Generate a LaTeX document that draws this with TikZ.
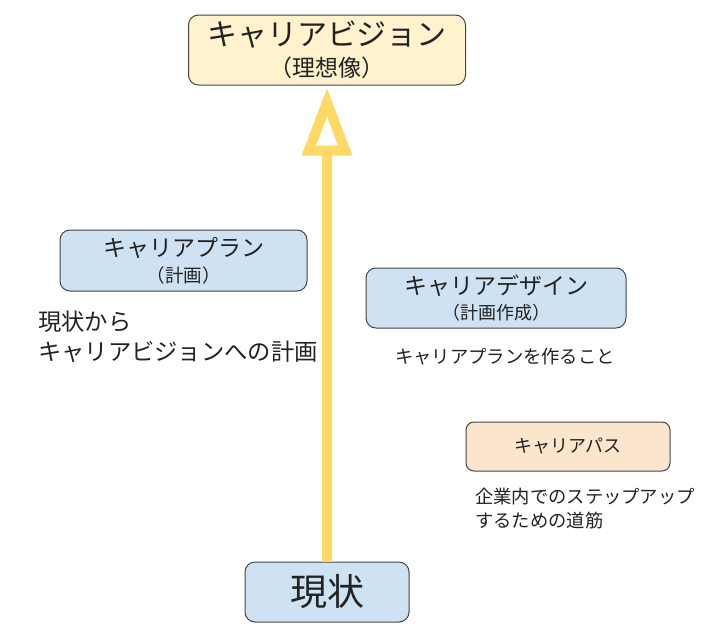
\documentclass[tikz,border=0pt]{standalone}
\usepackage{fontspec}
\setmainfont{Noto Sans CJK JP}
\usetikzlibrary{arrows.meta}
\definecolor{visionfill}{HTML}{FFF2CC}
\definecolor{planfill}{HTML}{CFE2F3}
\definecolor{pathfill}{HTML}{FCE5CD}
\definecolor{boxline}{HTML}{444444}
\definecolor{arrowyellow}{HTML}{FFD966}
\definecolor{textgray}{HTML}{222222}

\begin{document}
\begin{tikzpicture}[x=1pt,y=-1pt]
			\tikzstyle{box}=[draw=boxline,line width=1pt,rounded corners=10pt,align=center,inner sep=0pt,text=textgray]
			\tikzstyle{note}=[inner sep=0pt,text=textgray]
			\tikzstyle{growth}=[draw=arrowyellow,line width=10pt,-{Triangle[open,length=68pt,width=48pt]}]
			\useasboundingbox (0,0) rectangle (724,641);

			\node[box,fill=visionfill,minimum width=277pt,minimum height=70pt,font=\fontsize{22}{31}\selectfont] (vision) at (327,50)
				{\fontsize{30}{31}\selectfont キャリアビジョン\\\fontsize{23}{31}\selectfont （理想像）};
			\node[box,fill=planfill,minimum width=247pt,minimum height=61pt,font=\fontsize{18}{26}\selectfont] (plan) at (183.5,260.5)
				{\fontsize{23}{26}\selectfont キャリアプラン\\\fontsize{18.5}{26}\selectfont （計画）};
			\node[box,fill=planfill,minimum width=260pt,minimum height=60pt,font=\fontsize{18}{25}\selectfont] (design) at (496,298)
				{\fontsize{23}{25}\selectfont キャリアデザイン\\\fontsize{18}{25}\selectfont （計画作成）};
			\node[box,fill=pathfill,minimum width=204pt,minimum height=49pt,rounded corners=8pt,font=\fontsize{18}{20}\selectfont] (path) at (568,446.5) {キャリアパス};
			\node[box,fill=planfill,minimum width=164pt,minimum height=60pt,font=\fontsize{37}{40}\selectfont] (genjo) at (327,592) {現状};

			\node[note,anchor=west,align=left,font=\fontsize{23.3}{30}\selectfont] (planNote) at (38,337) {現状から\\キャリアビジョンへの計画};
			\node[note,font=\fontsize{18.3}{20}\selectfont] (designNote) at (505,357) {キャリアプランを作ること};
			\node[note,anchor=west,align=left,font=\fontsize{18.3}{24}\selectfont] (pathNote) at (475,509) {企業内でのステップアップ\\するための道筋};

			\draw[growth,shorten >=2pt] (genjo.north) -- (vision.south);
\end{tikzpicture}
\end{document}
